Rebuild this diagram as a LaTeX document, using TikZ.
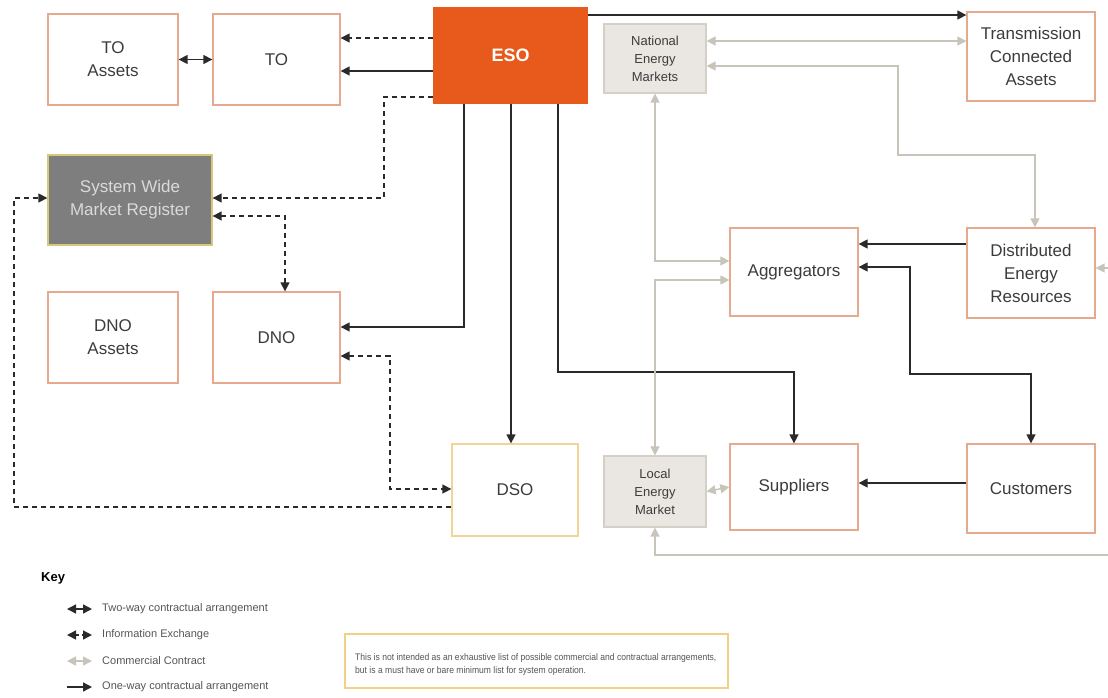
\documentclass[tikz,border=0pt]{standalone}
\usepackage{fontspec}
\setmainfont{Liberation Sans}
\newfontfamily\narrowsans[FakeStretch=0.9]{Liberation Sans}
\usetikzlibrary{arrows.meta}

\definecolor{ink}{HTML}{2A2A2A}
\definecolor{txt}{HTML}{3C3C3C}
\definecolor{keytxt}{HTML}{555555}
\definecolor{boxedge}{HTML}{E6A98E}
\definecolor{esofill}{HTML}{E85A1B}
\definecolor{mktfill}{HTML}{EAE7E2}
\definecolor{mktedge}{HTML}{D4D0C8}
\definecolor{regfill}{HTML}{7E7E7E}
\definecolor{regedge}{HTML}{D8C679}
\definecolor{regtext}{HTML}{DADADA}
\definecolor{dsoedge}{HTML}{F2D595}
\definecolor{noteedge}{HTML}{EFD285}
\definecolor{comm}{HTML}{C9C4BA}

\tikzset{
  box/.style={draw=boxedge, line width=1.3pt, fill=white, text=txt, align=center,
    inner sep=0pt, font=\fontsize{17}{23}\selectfont},
  mkt/.style={draw=mktedge, line width=1.2pt, fill=mktfill, text=txt, align=center,
    inner sep=0pt, font=\fontsize{13}{18}\selectfont},
  wire/.style={draw=ink, line width=1.4pt, >={Triangle[length=9pt,width=9pt]}},
  oneway/.style={wire, ->},
  twoway/.style={wire, <->},
  info/.style={wire, dash pattern=on 5pt off 4pt},
  commercial/.style={draw=comm, line width=1.4pt, >={Triangle[length=9pt,width=9pt]}},
  keylabel/.style={anchor=west, text=keytxt, inner sep=0pt, font=\fontsize{11}{13}\selectfont},
}

\begin{document}
\begin{tikzpicture}[x=1pt,y=-1pt]
\fill[white] (0,0) rectangle (1108,697);
\useasboundingbox (0,0) rectangle (1108,697);

% ---- organisations and markets ----
\node[box, minimum width=130pt, minimum height=91pt] (toa) at (113,59.5) {TO\\Assets};
\node[box, minimum width=127pt, minimum height=91pt] (to) at (276.5,59.5) {TO};
\node[fill=esofill, minimum width=155pt, minimum height=97pt, text=white, inner sep=0pt,
      font=\bfseries\fontsize{18}{22}\selectfont] (eso) at (510.5,55.5) {ESO};
\node[mkt, minimum width=102pt, minimum height=69pt] (nem) at (655,58.5) {National\\Energy\\Markets};
\node[box, minimum width=128pt, minimum height=89pt] (tca) at (1031,56.5) {Transmission\\Connected\\Assets};

\node[box, draw=regedge, fill=regfill, text=regtext, minimum width=164pt, minimum height=90pt]
      (swmr) at (130,200) {System Wide\\Market Register};
\node[box, minimum width=130pt, minimum height=91pt] (dnoa) at (113,337.5) {DNO\\Assets};
\node[box, minimum width=127pt, minimum height=91pt] (dno) at (276.5,337.5) {DNO};

\node[box, minimum width=128pt, minimum height=88pt] (agg) at (794,272) {Aggregators};
\node[box, minimum width=128pt, minimum height=90pt] (der) at (1031,273) {Distributed\\Energy\\Resources};

\node[box, draw=dsoedge, minimum width=126pt, minimum height=92pt] (dso) at (515,490) {DSO};
\node[mkt, minimum width=102pt, minimum height=71pt] (lem) at (655,491.5) {Local\\Energy\\Market};
\node[box, minimum width=128pt, minimum height=86pt] (sup) at (794,487) {Suppliers};
\node[box, minimum width=128pt, minimum height=89pt] (cus) at (1031,488.5) {Customers};

% ---- routing points ----
\coordinate (h15) at (0,15);
\coordinate (h38) at (0,38);
\coordinate (h41) at (0,41);
\coordinate (h71) at (0,71);
\coordinate (k6a) at (898,66);
\coordinate (k6b) at (1035,155);
\coordinate (k7a) at (384,97);
\coordinate (k7b) at (384,198);
\coordinate (k8) at (285,216);
\coordinate (k9) at (464,327);
\coordinate (k10a) at (390,356);
\coordinate (k10b) at (390,489);
\coordinate (k11a) at (14,507);
\coordinate (k11b) at (14,198);
\coordinate (k12) at (511,0);
\coordinate (k13) at (558,372);
\coordinate (k14) at (0,261);
\coordinate (k15) at (0,280);
\coordinate (k16) at (0,244);
\coordinate (k17a) at (910,267);
\coordinate (k17b) at (910,374);
\coordinate (k18) at (0,483);
\coordinate (e1) at (1108,268);
\coordinate (e2) at (1108,555);

% ---- connectors ----
\draw[twoway] (toa.east) -- (to.west);
\draw[info, ->] (eso.west |- h38) -- (to.east |- h38);
\draw[oneway] (eso.west |- h71) -- (to.east |- h71);
\draw[oneway] (eso.east |- h15) -- (tca.west |- h15);
\draw[commercial, <->] (nem.east |- h41) -- (tca.west |- h41);
\draw[commercial, <->] (nem.east |- k6a) -- (k6a) |- (k6b) -- (k6b |- der.north);

\draw[info, ->] (eso.west |- k7a) -- (k7a) -- (k7b) -- (swmr.east |- k7b);
\draw[info, <->] (swmr.east |- k8) -- (k8) -- (k8 |- dno.north);
\draw[oneway] (eso.south -| k9) -- (k9) -- (dno.east |- k9);
\draw[info, <->] (dno.east |- k10a) -- (k10a) -- (k10b) -- (dso.west |- k10b);
\draw[info, ->] (dso.west |- k11a) -- (k11a) -- (k11b) -- (swmr.west |- k11b);
\draw[oneway] (eso.south -| k12) -- (dso.north -| k12);
\draw[oneway] (eso.south -| k13) -- (k13) -| (sup.north);

\draw[commercial, <->] (nem.south) -- (nem.south |- k14) -- (agg.west |- k14);
\draw[commercial, <->] (agg.west |- k15) -- (lem.north |- k15) -- (lem.north);
\draw[oneway] (der.west |- k16) -- (agg.east |- k16);
\draw[twoway] (agg.east |- k17a) -- (k17a) -- (k17b) -| (cus.north);
\draw[oneway] (cus.west |- k18) -- (sup.east |- k18);
\draw[commercial, <->] (lem.east) -- (sup.west);
\draw[commercial, ->] (e1) -- (der.east |- e1);
\draw[commercial, ->] (e2) -- (lem.south |- e2) -- (lem.south);

% ---- key ----
\node[anchor=west, inner sep=0pt, font=\bfseries\fontsize{13}{15}\selectfont, text=black] (key) at (41,578) {Key};
\coordinate (a1) at (67,609);  \coordinate (b1) at (92,609);
\coordinate (a2) at (67,635);  \coordinate (b2) at (92,635);
\coordinate (a3) at (67,661);  \coordinate (b3) at (92,661);
\coordinate (a4) at (67,687);  \coordinate (b4) at (92,687);
\draw[twoway] (a1) -- (b1);
\draw[wire, <->, dash pattern=on 3pt off 3pt] (a2) -- (b2);
\draw[commercial, <->] (a3) -- (b3);
\draw[oneway] (a4) -- (b4);
\node[keylabel] (t1) at (102,609) {Two-way contractual arrangement};
\node[keylabel] (t2) at (102,635) {Information Exchange};
\node[keylabel] (t3) at (102,661) {Commercial Contract};
\node[keylabel] (t4) at (102,687) {One-way contractual arrangement};

% ---- note ----
\node[draw=noteedge, line width=1.3pt, minimum width=383pt, minimum height=54pt, inner sep=0pt]
      (note) at (536.5,661) {};
\node[anchor=west, inner sep=0pt, align=left, text=keytxt, font=\narrowsans\fontsize{9.5}{13}\selectfont]
      (notetext) at (355,665) {This is not intended as an exhaustive list of possible commercial and contractual arrangements,\\
      but is a must have or bare minimum list for system operation.};
\end{tikzpicture}
\end{document}
